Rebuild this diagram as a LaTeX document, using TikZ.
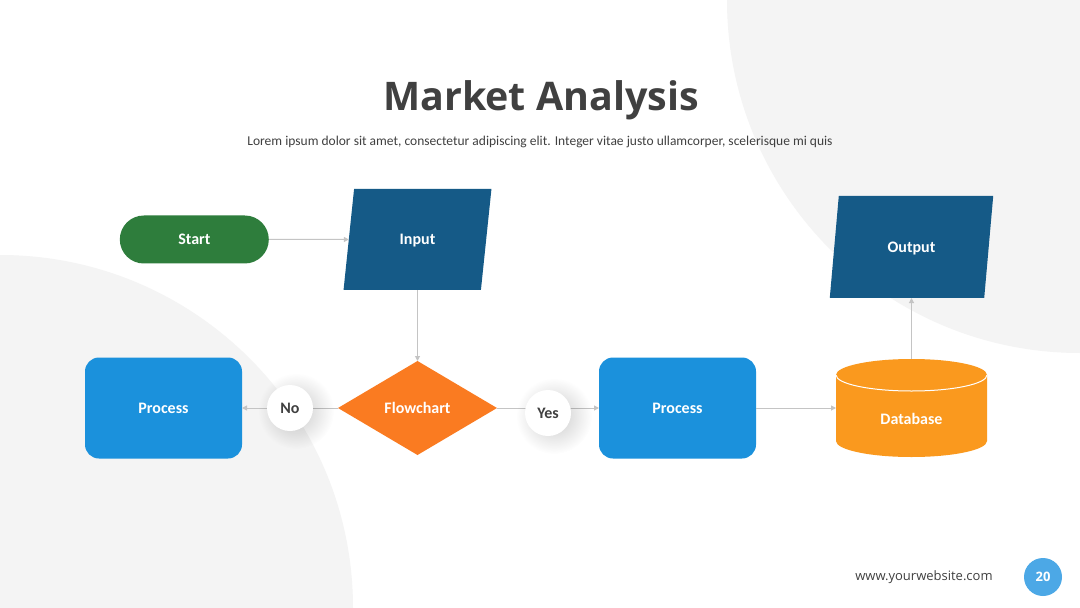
\documentclass[tikz,border=0pt]{standalone}
\usepackage{fontspec}
\setmainfont{Carlito}
\newfontfamily\headfont{Open Sans}
\usetikzlibrary{positioning,calc,arrows.meta,shapes.geometric,fadings}

\definecolor{bggray}{HTML}{F4F4F4}
\definecolor{headgray}{HTML}{404040}
\definecolor{startgreen}{HTML}{2E7D3C}
\definecolor{iodark}{HTML}{155A87}
\definecolor{procblue}{HTML}{1B91DC}
\definecolor{floworange}{HTML}{FA7B21}
\definecolor{dborange}{HTML}{FA991E}
\definecolor{linkgray}{HTML}{C4C4C4}
\definecolor{pageblue}{HTML}{4CA8E6}
\tikzfading[name=softspot, inner color=transparent!30, outer color=transparent!100]

\begin{document}
\begin{tikzpicture}[x=1pt, y=-1pt, font=\fontsize{16}{19}\selectfont\bfseries, box/.style={draw=none, text=white, inner sep=0pt, outer sep=0pt, text height=10.3pt, text depth=0pt}, terminal/.style={box, rectangle, rounded corners=24pt, fill=startgreen, minimum width=149pt, minimum height=48pt}, io/.style={box, trapezium, trapezium left angle=74, trapezium right angle=106, trapezium stretches=true, fill=iodark}, proc/.style={box, rectangle, rounded corners=14pt, fill=procblue, minimum width=157pt, minimum height=101pt}, decide/.style={box, diamond, fill=floworange, minimum width=159pt, minimum height=94pt}, dbbox/.style={box, rectangle, minimum width=151pt, minimum height=98pt}, tag/.style={circle, fill=white, minimum size=46pt, inner sep=0pt, text=headgray, text height=10.3pt, text depth=0pt}, glow/.style={fill=black, fill opacity=0.3, path fading=softspot}, link/.style={draw=linkgray, line width=1pt, -{Triangle[length=5pt, width=5pt]}}, title/.style={font=\headfont\bfseries\fontsize{39.4}{47}\selectfont, text=headgray, anchor=base}, lead/.style={font=\fontsize{13.5}{16}\selectfont, text=headgray, anchor=base}]
\useasboundingbox (0,0) rectangle (1080,608);
\fill[white] (0,0) rectangle (1080,608);
\begin{scope}
\clip (0,0) rectangle (1080,608);
\fill[bggray] (1080,0) circle[radius=353pt];
\fill[bggray] (0,608) circle[radius=353pt];
\end{scope}
\node[title] (heading) at (541,110) {Market Analysis};
\node[lead] (intro) at (540,145) {Lorem ipsum dolor sit amet, consectetur adipiscing elit. Integer vitae justo ullamcorper, scelerisque mi quis};
% flowchart
\node[decide] (flow) at (417.5,408) {Flowchart};
\node[io, minimum width=148pt, minimum height=101pt, above=71pt of flow] (input) {Input};
\node[terminal, left=80pt of input] (start) {Start};
\node[proc, left=96pt of flow] (procno) {Process};
\node[proc, right=102pt of flow] (procyes) {Process};
\node[dbbox, right=80pt of procyes] (db) {};
\node[io, minimum width=164pt, minimum height=102pt, above=61pt of db] (output) {Output};
\fill[dborange] ([yshift=-16pt]db.north west) -- ([yshift=16pt]db.south west) arc[start angle=180, end angle=360, x radius=75.5pt, y radius=16pt] -- ([yshift=-16pt]db.north east) arc[start angle=0, end angle=180, x radius=75.5pt, y radius=16pt] -- cycle;
\draw[white, line width=1pt] ([yshift=-16pt]db.north west) arc[start angle=180, end angle=360, x radius=75.5pt, y radius=16pt];
\node[box] (dbname) at ([yshift=-11pt]db.center) {Database};
% connectors
\draw[link] (start) -- (input);
\draw[link] (input.south) -- (flow.north);
\draw[link] (flow.west) -- (procno.east);
\draw[link] (flow.east) -- (procyes.west);
\draw[link] (procyes) -- (db);
\draw[link] (db.north) -- (output.south);
\coordinate (nospot) at ($(flow.west)!0.5!(procno.east)$);
\coordinate (yesspot) at ($(flow.east)!0.5!(procyes.west)+(0,5)$);
\fill[glow] ($(nospot)+(6,3)$) circle[radius=38pt];
\fill[glow] ($(yesspot)+(6,3)$) circle[radius=38pt];
\node[tag] (no) at (nospot) {No};
\node[tag] (yes) at (yesspot) {Yes};
% footer
\node[circle, fill=pageblue, minimum size=38pt, inner sep=0pt, text=white, font=\headfont\bfseries\fontsize{13}{16}\selectfont] (page) at (1043,577) {20};
\node[left=31pt of page, inner sep=0pt, text=headgray, font=\headfont\fontsize{13}{16}\selectfont] (site) {www.yourwebsite.com};
\end{tikzpicture}
\end{document}
